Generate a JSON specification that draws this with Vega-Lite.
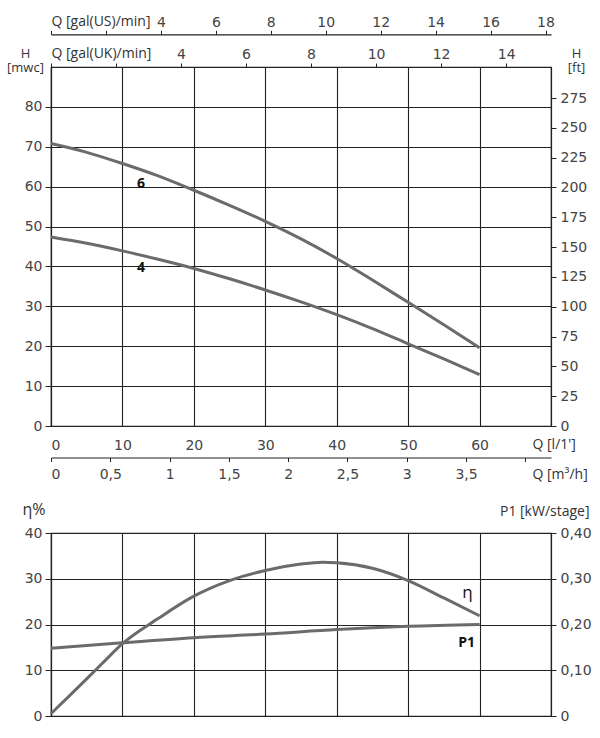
{
  "$schema": "https://vega.github.io/schema/vega-lite/v6.json",
  "background": "white",
  "padding": {"left": 5, "top": 13, "right": 5, "bottom": 5},
  "bounds": "flush",
  "spacing": 107,
  "config": {
    "view": {"stroke": "#222", "strokeWidth": 1.2},
    "axis": {
      "labelFont": "DejaVu Sans",
      "labelFontSize": 14,
      "labelColor": "#444",
      "titleFont": "Open Sans",
      "titleFontSize": 14,
      "titleFontWeight": "normal",
      "titleColor": "#333",
      "domainColor": "#222",
      "domainWidth": 1.2,
      "tickColor": "#222",
      "gridColor": "#222",
      "gridWidth": 1.1,
      "gridOpacity": 1
    }
  },
  "datasets": {
    "heads": [
      {"stages": "6", "Q": 0, "H": 70.8},
      {"stages": "6", "Q": 5, "H": 68.6},
      {"stages": "6", "Q": 10, "H": 65.8},
      {"stages": "6", "Q": 15, "H": 62.7},
      {"stages": "6", "Q": 20, "H": 59.1},
      {"stages": "6", "Q": 25, "H": 55.3},
      {"stages": "6", "Q": 30, "H": 51.3},
      {"stages": "6", "Q": 35, "H": 46.9},
      {"stages": "6", "Q": 40, "H": 42.0},
      {"stages": "6", "Q": 45, "H": 36.6},
      {"stages": "6", "Q": 50, "H": 31.0},
      {"stages": "6", "Q": 55, "H": 25.4},
      {"stages": "6", "Q": 60, "H": 19.6},
      {"stages": "4", "Q": 0, "H": 47.4},
      {"stages": "4", "Q": 5, "H": 45.8},
      {"stages": "4", "Q": 10, "H": 43.9},
      {"stages": "4", "Q": 15, "H": 41.8},
      {"stages": "4", "Q": 20, "H": 39.5},
      {"stages": "4", "Q": 25, "H": 36.9},
      {"stages": "4", "Q": 30, "H": 34.1},
      {"stages": "4", "Q": 35, "H": 31.1},
      {"stages": "4", "Q": 40, "H": 27.9},
      {"stages": "4", "Q": 45, "H": 24.4},
      {"stages": "4", "Q": 50, "H": 20.6},
      {"stages": "4", "Q": 55, "H": 16.8},
      {"stages": "4", "Q": 60, "H": 12.9}
    ],
    "headLabels": [
      {"text": "6", "Q": 12.6, "H": 60.6},
      {"text": "4", "Q": 12.6, "H": 39.5}
    ],
    "eta": [
      {"Q": 0, "eta": 0.5},
      {"Q": 2.5, "eta": 4.3},
      {"Q": 5, "eta": 8.1},
      {"Q": 7.5, "eta": 12.0},
      {"Q": 10, "eta": 15.8},
      {"Q": 15, "eta": 21.3},
      {"Q": 20, "eta": 26.2},
      {"Q": 25, "eta": 29.6},
      {"Q": 30, "eta": 31.8},
      {"Q": 35, "eta": 33.2},
      {"Q": 38, "eta": 33.6},
      {"Q": 40, "eta": 33.5},
      {"Q": 45, "eta": 32.3},
      {"Q": 50, "eta": 29.6},
      {"Q": 55, "eta": 25.8},
      {"Q": 60, "eta": 21.9}
    ],
    "power": [
      {"Q": 0, "P1": 0.148},
      {"Q": 10, "P1": 0.160},
      {"Q": 20, "P1": 0.171},
      {"Q": 30, "P1": 0.179},
      {"Q": 40, "P1": 0.189},
      {"Q": 50, "P1": 0.196},
      {"Q": 60, "P1": 0.200}
    ],
    "etaLabel": [{"text": "η", "Q": 58.3, "v": 26.9}],
    "p1Label": [{"text": "P1", "Q": 58.2, "v": 16.0}],
    "one": [{"g": 0}]
  },
  "vconcat": [
    {
      "width": 500,
      "height": 359,
      "layer": [
        {
          "data": {"name": "heads"},
          "mark": {"type": "line", "interpolate": "monotone", "color": "#6b6b6b", "strokeWidth": 3},
          "encoding": {
            "x": {
              "field": "Q", "type": "quantitative",
              "scale": {"domain": [0, 70], "nice": false},
              "axis": {
                "orient": "bottom", "values": [0, 10, 20, 30, 40, 50, 60],
                "grid": true, "ticks": false, "labelPadding": 12,
                "title": "Q [l/1']", "titleAlign": "left", "titleBaseline": "middle",
                "titleX": 481, "titleY": 18
              }
            },
            "y": {
              "field": "H", "type": "quantitative",
              "scale": {"domain": [0, 90], "nice": false},
              "axis": {
                "values": [0, 10, 20, 30, 40, 50, 60, 70, 80],
                "grid": true, "tickSize": 6, "labelPadding": 3,
                "title": ["H", "[mwc]"], "titleAngle": 0, "titleAlign": "center",
                "titleBaseline": "middle", "titleFontSize": 13, "titleLineHeight": 14,
                "titleX": -26, "titleY": -14
              }
            },
            "detail": {"field": "stages"}
          }
        },
        {
          "data": {"name": "headLabels"},
          "mark": {"type": "text", "font": "Open Sans", "fontWeight": "bold", "fontSize": 14, "color": "#111"},
          "encoding": {
            "x": {"field": "Q", "type": "quantitative", "scale": {"domain": [0, 70], "nice": false}, "axis": null},
            "y": {"field": "H", "type": "quantitative", "scale": {"domain": [0, 90], "nice": false}, "axis": null},
            "text": {"field": "text"}
          }
        },
        {
          "data": {"name": "one"},
          "mark": {"type": "point", "opacity": 0},
          "encoding": {
            "x": {
              "field": "g", "type": "quantitative",
              "scale": {"domain": [0, 4.216], "nice": false},
              "axis": {
                "orient": "bottom", "offset": 31.5,
                "values": [0, 0.5, 1, 1.5, 2, 2.5, 3, 3.5, 4],
                "tickSize": 4, "labelPadding": 6,
                "labelExpr": "datum.value == 4 ? '' : replace(format(datum.value, ''), '.', ',')",
                "title": "Q [m³/h]", "titleAlign": "left", "titleBaseline": "middle",
                "titleX": 481, "titleY": 17
              }
            },
            "y": {"field": "g", "type": "quantitative", "scale": {"domain": [0, 1]}, "axis": null}
          }
        },
        {
          "data": {"name": "one"},
          "mark": {"type": "point", "opacity": 0},
          "encoding": {
            "x": {
              "field": "g", "type": "quantitative",
              "scale": {"domain": [0, 18.2], "nice": false},
              "axis": {
                "orient": "top", "offset": 32.7,
                "values": [0, 2, 4, 6, 8, 10, 12, 14, 16, 18],
                "tickSize": 4, "labelPadding": 1,
                "labelExpr": "datum.value < 3 ? '' : datum.label",
                "title": "Q [gal(US)/min]", "titleAlign": "left", "titleBaseline": "middle",
                "titleX": 0, "titleY": -13
              }
            },
            "y": {"field": "g", "type": "quantitative", "scale": {"domain": [0, 1]}, "axis": null}
          }
        },
        {
          "data": {"name": "one"},
          "mark": {"type": "point", "opacity": 0},
          "encoding": {
            "x": {
              "field": "g", "type": "quantitative",
              "scale": {"domain": [0, 15.38], "nice": false},
              "axis": {
                "orient": "top", "offset": 0,
                "values": [0, 2, 4, 6, 8, 10, 12, 14],
                "tickSize": 4, "labelPadding": 2,
                "labelExpr": "datum.value < 3 ? '' : datum.label",
                "title": "Q [gal(UK)/min]", "titleAlign": "left", "titleBaseline": "middle",
                "titleX": 0, "titleY": -14
              }
            },
            "y": {"field": "g", "type": "quantitative", "scale": {"domain": [0, 1]}, "axis": null}
          }
        },
        {
          "data": {"name": "one"},
          "mark": {"type": "point", "opacity": 0},
          "encoding": {
            "x": {"field": "g", "type": "quantitative", "scale": {"domain": [0, 1]}, "axis": null},
            "y": {
              "field": "g", "type": "quantitative",
              "scale": {"domain": [0, 301], "nice": false},
              "axis": {
                "orient": "right",
                "values": [0, 25, 50, 75, 100, 125, 150, 175, 200, 225, 250, 275],
                "tickSize": 5, "labelPadding": 4,
                "title": ["H", "[ft]"], "titleAngle": 0, "titleAlign": "center",
                "titleBaseline": "middle", "titleFontSize": 13, "titleLineHeight": 14,
                "titleX": 25, "titleY": -14
              }
            }
          }
        }
      ],
      "resolve": {"scale": {"x": "independent", "y": "independent"}}
    },
    {
      "width": 500,
      "height": 183,
      "layer": [
        {
          "data": {"name": "eta"},
          "mark": {"type": "line", "interpolate": "monotone", "color": "#6b6b6b", "strokeWidth": 3},
          "encoding": {
            "x": {
              "field": "Q", "type": "quantitative",
              "scale": {"domain": [0, 70], "nice": false},
              "axis": {
                "orient": "bottom", "values": [0, 10, 20, 30, 40, 50, 60],
                "grid": true, "ticks": false, "labels": false, "title": null
              }
            },
            "y": {
              "field": "eta", "type": "quantitative",
              "scale": {"domain": [0, 40], "nice": false},
              "axis": {
                "values": [0, 10, 20, 30, 40],
                "grid": true, "tickSize": 6, "labelPadding": 3,
                "title": "η%", "titleAngle": 0, "titleAlign": "left",
                "titleBaseline": "middle", "titleFontSize": 16,
                "titleX": -29, "titleY": -24
              }
            }
          }
        },
        {
          "data": {"name": "etaLabel"},
          "mark": {"type": "text", "font": "Open Sans", "fontSize": 17, "color": "#111"},
          "encoding": {
            "x": {"field": "Q", "type": "quantitative", "scale": {"domain": [0, 70], "nice": false}, "axis": null},
            "y": {"field": "v", "type": "quantitative", "scale": {"domain": [0, 40], "nice": false}, "axis": null},
            "text": {"field": "text"}
          }
        },
        {
          "data": {"name": "p1Label"},
          "mark": {"type": "text", "font": "Open Sans", "fontWeight": "bold", "fontSize": 14, "color": "#111"},
          "encoding": {
            "x": {"field": "Q", "type": "quantitative", "scale": {"domain": [0, 70], "nice": false}, "axis": null},
            "y": {"field": "v", "type": "quantitative", "scale": {"domain": [0, 40], "nice": false}, "axis": null},
            "text": {"field": "text"}
          }
        },
        {
          "data": {"name": "power"},
          "mark": {"type": "line", "interpolate": "monotone", "color": "#6b6b6b", "strokeWidth": 3},
          "encoding": {
            "x": {"field": "Q", "type": "quantitative", "scale": {"domain": [0, 70], "nice": false}, "axis": null},
            "y": {
              "field": "P1", "type": "quantitative",
              "scale": {"domain": [0, 0.4], "nice": false},
              "axis": {
                "orient": "right", "values": [0, 0.1, 0.2, 0.3, 0.4],
                "tickSize": 5, "labelPadding": 4,
                "labelExpr": "datum.value == 0 ? '0' : replace(format(datum.value, '.2f'), '.', ',')",
                "title": "P1 [kW/stage]", "titleAngle": 0, "titleAlign": "right",
                "titleBaseline": "middle", "titleX": 38, "titleY": -22
              }
            }
          }
        }
      ],
      "resolve": {"scale": {"x": "independent", "y": "independent"}}
    }
  ]
}
